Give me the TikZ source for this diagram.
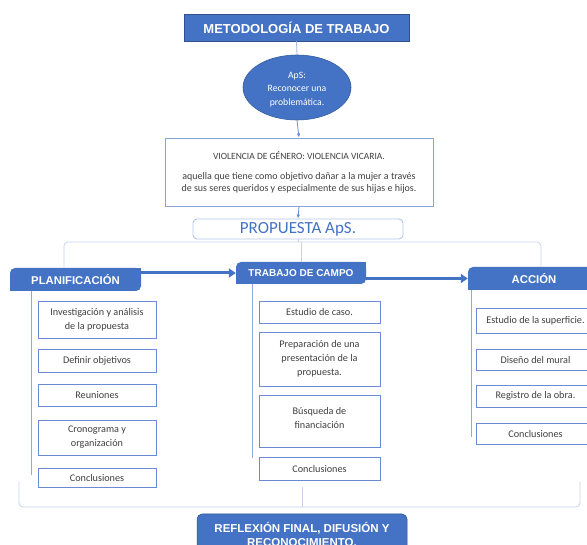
\documentclass[tikz,border=0pt]{standalone}
\usepackage{fontspec}
\setmainfont{Carlito}
\newfontfamily\hdrfont{Liberation Sans}
\usetikzlibrary{arrows.meta,shapes.geometric}
\definecolor{mblue}{HTML}{4472C4}
\definecolor{dborder}{HTML}{2F528F}
\definecolor{iborder}{HTML}{6A8BD4}
\definecolor{lline}{HTML}{C8D3EA}
\definecolor{cline}{HTML}{8EA9DB}
\definecolor{tgray}{HTML}{404040}
\tikzset{
  titlebox/.style={draw=dborder, line width=0.6pt, fill=mblue, text=white, inner sep=0pt, font=\hdrfont\bfseries\fontsize{13}{15}\selectfont},
  hdrbox/.style={fill=mblue, text=white, inner sep=0pt, rounded corners=5pt, font=\hdrfont\bfseries\fontsize{11.3}{13.5}\selectfont},
  itembox/.style={draw=iborder, line width=0.9pt, fill=white, text=tgray, inner sep=0pt, align=center, font=\fontsize{10.2}{14}\selectfont},
  lconn/.style={draw=lline, line width=0.8pt},
  colline/.style={draw=cline, line width=0.8pt},
  smallarrow/.style={draw=cline, line width=0.8pt, -{Latex[length=4pt,width=3.5pt]}, color=mblue!80},
  thickarrow/.style={draw=mblue, line width=3pt, -{Triangle[length=7pt,width=9pt]}},
}
\begin{document}
\begin{tikzpicture}[x=1pt,y=-1pt]
\useasboundingbox (0,0) rectangle (587,545);
\fill[white] (0,0) rectangle (587,545);

% top
\node[titlebox, minimum width=225pt, minimum height=27pt] (title) at (296.5,27.5) {METODOLOGÍA DE TRABAJO};
\node[ellipse, draw=dborder!70!mblue, line width=0.6pt, fill=mblue, text=white, minimum width=108pt, minimum height=65pt, inner sep=0pt, align=center, font=\fontsize{9.7}{13.5}\selectfont] (aps) at (297,87.5) {};
\node[text=white, align=center, inner sep=0pt, font=\fontsize{9.7}{13.5}\selectfont] at ([yshift=-2pt]aps.center) {ApS:\\Reconocer una\\problemática.};
\node[draw=iborder!80, line width=0.9pt, fill=white, text=tgray, minimum width=268pt, minimum height=68pt, inner sep=0pt, align=center] (viol) at (299,172)
  {\fontsize{9.5}{13}\selectfont VIOLENCIA DE GÉNERO: VIOLENCIA VICARIA.\\[8pt]
   \fontsize{10}{13.5}\selectfont aquella que tiene como objetivo dañar a la mujer a través\\
   de sus seres queridos y especialmente de sus hijas e hijos.};
\node[draw=lline!80!iborder, line width=0.9pt, rounded corners=4pt, fill=white, text=mblue, minimum width=210pt, minimum height=20pt, inner sep=0pt, font=\fontsize{17}{19}\selectfont] (prop) at (298,229) {PROPUESTA ApS.};

\draw[draw=lline!60!iborder, line width=0.8pt] (title.south) -- (aps.north);
\draw[smallarrow] (aps.south) -- (viol.north);
\draw[smallarrow] (viol.south) -- (prop.north);

% headers
\node[hdrbox, minimum width=131pt, minimum height=23pt] (plan) at (75.5,279.5) {PLANIFICACIÓN};
\fill[mblue] (plan.north east) rectangle ([xshift=-6pt,yshift=-6pt]plan.north east);
\fill[mblue] (plan.south west) rectangle ([xshift=6pt,yshift=6pt]plan.south west);
\node[hdrbox, minimum width=130pt, minimum height=22pt, font=\hdrfont\bfseries\fontsize{10}{12}\selectfont] (trab) at (301,273) {TRABAJO DE CAMPO};
\fill[mblue] (trab.north east) rectangle ([xshift=-6pt,yshift=-6pt]trab.north east);
\fill[mblue] (trab.south west) rectangle ([xshift=6pt,yshift=6pt]trab.south west);
\node[hdrbox, minimum width=132pt, minimum height=23pt] (acc) at (534,278.5) {ACCIÓN};
\fill[mblue] (acc.north east) rectangle ([xshift=-6pt,yshift=-6pt]acc.north east);
\fill[mblue] (acc.south west) rectangle ([xshift=6pt,yshift=6pt]acc.south west);

% bus from propuesta
\coordinate (busL) at (64,242);
\coordinate (busR) at (541,242);
\draw[lconn, rounded corners=4pt] (plan.north -| busL) -- (busL) -- (busR) -- (acc.north -| busR);
\draw[lconn] (prop.south) -- (prop.south |- busL);
\draw[lconn] (trab.north) -- (trab.north |- busL);

% thick arrows
\draw[thickarrow] (plan.east |- trab.west) -- (trab.west);
\draw[thickarrow] (trab.east |- acc.west) -- (acc.west);

% column lines
\draw[colline] ([xshift=22pt]plan.south west) -- ++(0,184);
\draw[colline] ([xshift=17pt]trab.south west) -- ++(0,174);
\draw[colline] ([xshift=4pt]acc.south west) -- ++(0,147);

% planificacion items
\node[itembox, minimum width=118pt, minimum height=37pt] (p1) at (97,319.5) {Investigación y análisis\\de la propuesta};
\node[itembox, minimum width=118pt, minimum height=23pt] (p2) at (97,360.5) {Definir objetivos};
\node[itembox, minimum width=118pt, minimum height=22pt] (p3) at (97,395) {Reuniones};
\node[itembox, minimum width=118pt, minimum height=35pt] (p4) at (97,437.5) {Cronograma y\\organización};
\node[itembox, minimum width=118pt, minimum height=19pt] (p5) at (97,477.5) {Conclusiones};

% trabajo items
\node[itembox, minimum width=121pt, minimum height=22pt] (t1) at (319.5,312) {Estudio de caso.};
\node[itembox, minimum width=121pt, minimum height=54pt] (t2) at (319.5,359) {Preparación de una\\presentación de la\\propuesta.};
\node[itembox, minimum width=121pt, minimum height=52pt, text depth=6pt] (t3) at (319.5,421) {Búsqueda de\\financiación};
\node[itembox, minimum width=121pt, minimum height=23pt] (t4) at (319.5,468.5) {Conclusiones};

% accion items
\node[itembox, minimum width=119pt, minimum height=25pt] (a1) at (535.5,320.5) {Estudio de la superficie.};
\node[itembox, minimum width=119pt, minimum height=21pt] (a2) at (535.5,359.5) {Diseño del mural};
\node[itembox, minimum width=119pt, minimum height=22pt] (a3) at (535.5,396) {Registro de la obra.};
\node[itembox, minimum width=119pt, minimum height=21pt] (a4) at (535.5,433.5) {Conclusiones};

% bottom bracket
\coordinate (bl0) at (19,482);
\coordinate (botL) at (19,507);
\coordinate (botR) at (580,507);
\coordinate (br0) at (580,482);
\coordinate (bm0) at (302,487);
\draw[lconn, rounded corners=4pt] (bl0) -- (botL) -- (botR) -- (br0);
\draw[lconn] (bm0) -- (bm0 |- botL);

% final box
\node[fill=mblue, draw=dborder, line width=0.5pt, rounded corners=5pt, text=white, minimum width=210pt, minimum height=40pt, inner sep=0pt, align=center, font=\hdrfont\bfseries\fontsize{11.5}{14}\selectfont] (refl) at (302,534) {REFLEXIÓN FINAL, DIFUSIÓN Y\\RECONOCIMIENTO.};
\end{tikzpicture}
\end{document}
